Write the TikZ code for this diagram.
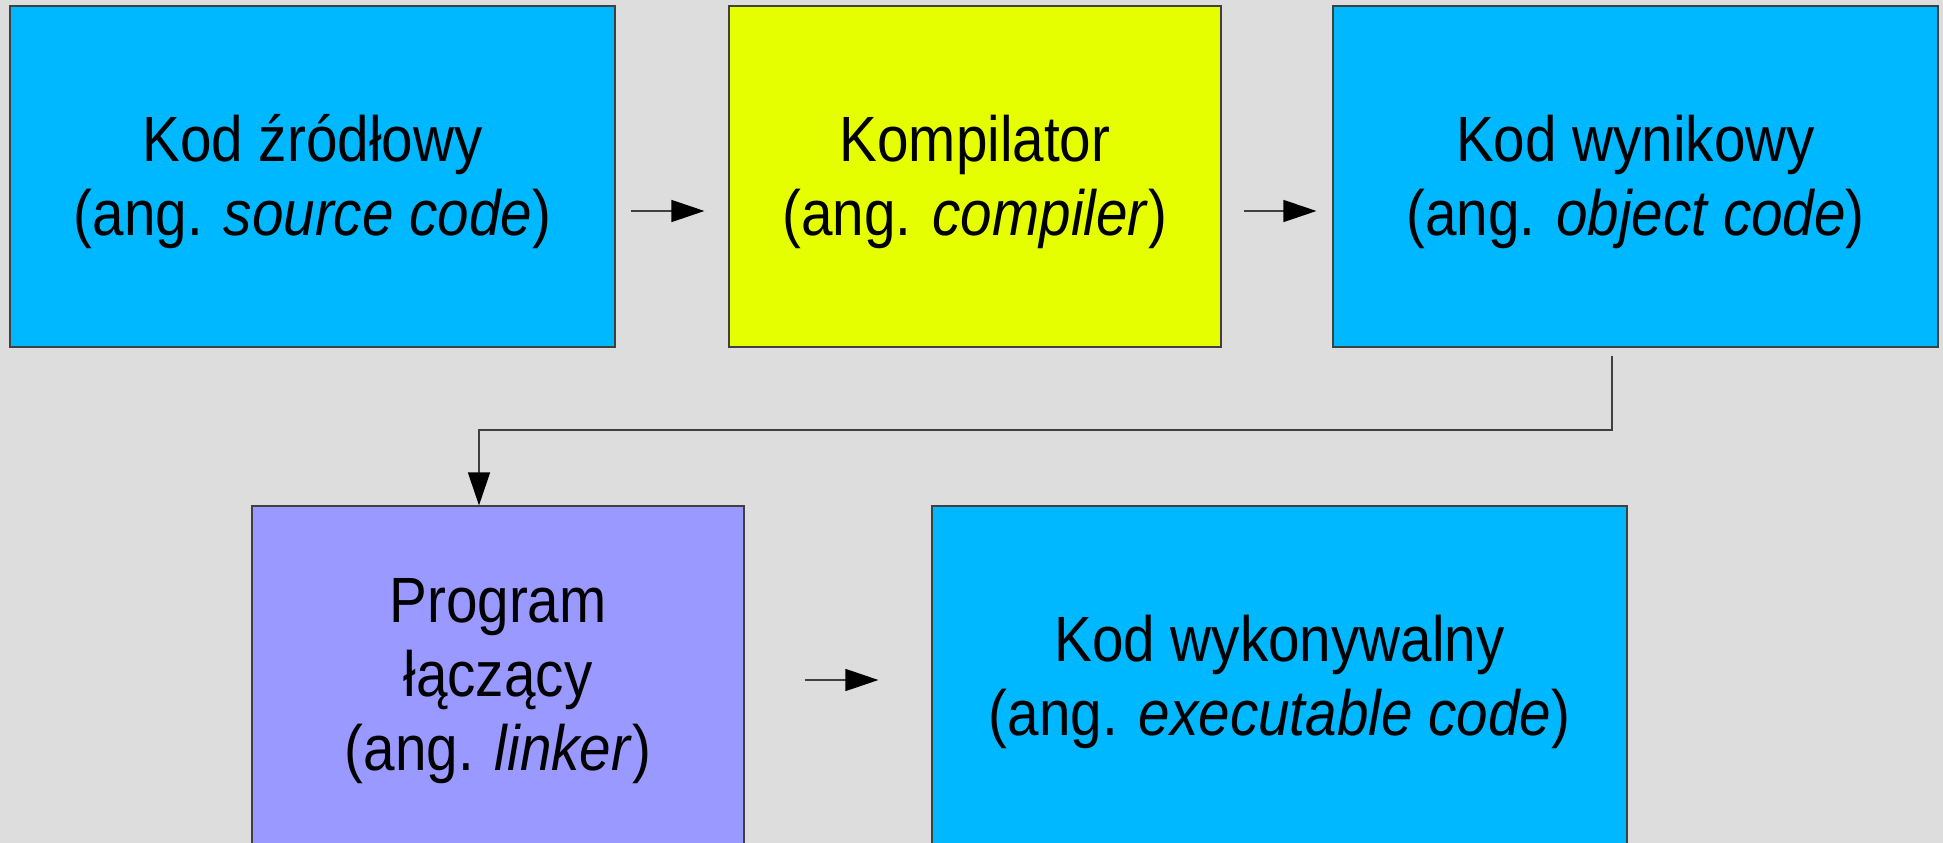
\documentclass[tikz,border=0pt]{standalone}
\usepackage{fontspec}
\setmainfont[FakeStretch=0.885]{Liberation Sans}
\usetikzlibrary{arrows.meta}
\definecolor{bg}{RGB}{221,221,221}
\definecolor{cyanbox}{RGB}{0,184,255}
\definecolor{yellowbox}{RGB}{230,255,0}
\definecolor{violetbox}{RGB}{153,153,255}
\tikzset{
  box/.style={draw=black!75, line width=1.2pt, inner sep=0pt},
  lbl/.style={align=center, inner sep=0pt, yshift=-5pt, font=\fontsize{64}{74}\selectfont},
  arr/.style={draw=black!75, line width=1.4pt, -{Triangle[length=33pt,width=22pt,color=black]}}
}
\begin{document}
\begin{tikzpicture}[x=1pt,y=1pt]
\useasboundingbox[fill=bg] (0,0) rectangle (1943,-843);
\node[box, fill=cyanbox, minimum width=605pt, minimum height=341pt,
  label={[lbl]center:{Kod źródłowy\\(ang. \textit{source code})}}] (b1) at (312.5,-176.5) {};
\node[box, fill=yellowbox, minimum width=492pt, minimum height=341pt,
  label={[lbl]center:{Kompilator\\(ang. \textit{compiler})}}] (b2) at (975,-176.5) {};
\node[box, fill=cyanbox, minimum width=605pt, minimum height=341pt,
  label={[lbl]center:{Kod wynikowy\\(ang. \textit{object code})}}] (b3) at (1635.5,-176.5) {};
\node[box, fill=violetbox, minimum width=492pt, minimum height=341pt,
  label={[lbl]center:{Program\\łączący\\(ang. \textit{linker})}}] (b4) at (498,-676.5) {};
\node[box, fill=cyanbox, minimum width=695pt, minimum height=341pt,
  label={[lbl]center:{Kod wykonywalny\\(ang. \textit{executable code})}}] (b5) at (1279.5,-676.5) {};
\draw[arr] ([xshift=15pt,yshift=-34.5pt]b1.east) -- ([xshift=-24pt,yshift=-34.5pt]b2.west);
\draw[arr] ([xshift=22pt,yshift=-34.5pt]b2.east) -- ([xshift=-16pt,yshift=-34.5pt]b3.west);
\coordinate (mid) at (0,-430);
\draw[arr] ([xshift=-23.5pt,yshift=-8pt]b3.south) |- ([xshift=-19pt]b4.north |- mid) -- ([xshift=-19pt]b4.north);
\draw[arr] ([xshift=60pt,yshift=-3.5pt]b4.east) -- ([xshift=-53pt,yshift=-3.5pt]b5.west);
\end{tikzpicture}
\end{document}
